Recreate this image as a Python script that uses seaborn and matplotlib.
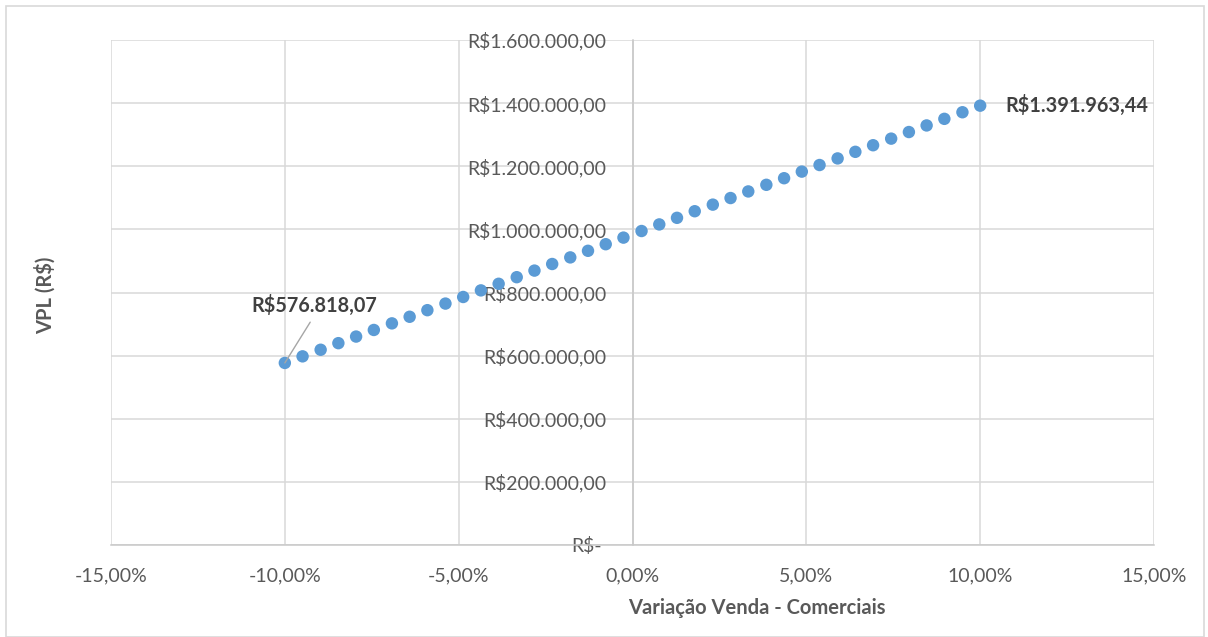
import matplotlib
matplotlib.use("Agg")
import matplotlib.pyplot as plt
import matplotlib.transforms as mtransforms
from matplotlib.ticker import FuncFormatter
import pandas as pd
import seaborn as sns

# Sales variation (%) and resulting NPV (R$)
variacao_pct = [-10.00, -9.49, -8.97, -8.46, -7.95, -7.44, -6.92, -6.41, -5.90, -5.38,
                -4.87, -4.36, -3.85, -3.33, -2.82, -2.31, -1.79, -1.28, -0.77, -0.26,
                0.26, 0.77, 1.28, 1.79, 2.31, 2.82, 3.33, 3.85, 4.36, 4.87,
                5.38, 5.90, 6.41, 6.92, 7.44, 7.95, 8.46, 8.97, 9.49, 10.00]
vpl = [576818.07, 597700, 618600, 639500, 660400, 681300, 702200, 723100, 744000, 764900,
       785800, 806700, 827600, 848500, 869400, 890300, 911200, 932100, 953000, 973900,
       994800, 1015700, 1036600, 1057500, 1078400, 1099300, 1120200, 1141200, 1162100, 1183000,
       1203900, 1224800, 1245700, 1266600, 1287500, 1308400, 1329300, 1350200, 1371100, 1391963.44]

x_ticks = [-15, -10, -5, 0, 5, 10, 15]
y_ticks = [0, 200000, 400000, 600000, 800000, 1000000, 1200000, 1400000, 1600000]

df = pd.DataFrame({"variacao": variacao_pct, "vpl": vpl})

sns.set_theme(style="white")
plt.rcParams["font.family"] = ["Lato", "DejaVu Sans"]

TXT = "#595959"
LBL = "#404040"
GRID = "#D9D9D9"
BLUE = "#5B9BD5"

W, H = 1208, 637
fig = plt.figure(figsize=(W / 100, H / 100), dpi=100)
ax = fig.add_axes([111 / W, 1 - 545 / H, (1154 - 111) / W, (545 - 40) / H])

# outer chart border
fig.patches.append(plt.Rectangle((6 / W, 0.0), (1204 - 6) / W, 1 - 6 / H,
                                 transform=fig.transFigure, fill=False,
                                 edgecolor="#D9D9D9", linewidth=1.2))

sns.scatterplot(data=df, x="variacao", y="vpl", ax=ax, color=BLUE, s=80,
                edgecolor="none", zorder=3)

ax.set_xlim(-15, 15)
ax.set_ylim(0, 1600000)
ax.set_xticks(x_ticks)
ax.set_yticks(y_ticks)
ax.grid(True, color=GRID, linewidth=1.1)
ax.set_axisbelow(True)

for side in ["top", "right"]:
    ax.spines[side].set_visible(False)
ax.spines["left"].set_position(("data", 0))
for side in ["left", "bottom"]:
    ax.spines[side].set_color("#C8C8C8")
    ax.spines[side].set_linewidth(1.1)


def fmt_brl(v, _pos):
    if v == 0:
        return "R$-"
    s = f"{v:,.2f}".replace(",", "X").replace(".", ",").replace("X", ".")
    return "R$" + s


def fmt_pct(v, _pos):
    return f"{v:.2f}%".replace(".", ",")


ax.yaxis.set_major_formatter(FuncFormatter(fmt_brl))
ax.xaxis.set_major_formatter(FuncFormatter(fmt_pct))
ax.tick_params(axis="both", length=0, labelsize=14, labelcolor=TXT)
ax.tick_params(axis="y", pad=19)
ax.tick_params(axis="x", pad=16)

# the zero label sits slightly further left
for lbl in ax.get_yticklabels():
    if lbl.get_text() == "R$-":
        lbl.set_transform(lbl.get_transform() +
                          mtransforms.ScaledTranslation(-0.04, 0, fig.dpi_scale_trans))

ax.set_xlabel("")
ax.set_ylabel("")
fig.text(757 / W, 1 - 608 / H, "Variação Venda - Comerciais", ha="center", va="center",
         fontsize=14.5, fontweight="bold", color=TXT)
fig.text(45 / W, 1 - 295 / H, "VPL (R$)", rotation=90, ha="center", va="center",
         fontsize=14.5, fontweight="bold", color=TXT)

# value labels on the end points
first_x, first_y = variacao_pct[0], vpl[0]
last_x, last_y = variacao_pct[-1], vpl[-1]
ax.annotate("", xy=(first_x, first_y), xytext=(-9.27, 706000),
            arrowprops=dict(arrowstyle="-", color="#A6A6A6", linewidth=1,
                            shrinkA=0, shrinkB=0))
ax.text(-9.16, 760000, fmt_brl(first_y, None), ha="center", va="center",
        fontsize=14.3, fontweight="bold", color=LBL)
ax.annotate(fmt_brl(last_y, None), xy=(last_x, last_y), xytext=(18.5, 0),
            textcoords="offset points", ha="left", va="center", fontsize=14.3,
            fontweight="bold", color=LBL)

fig.savefig("out.png", dpi=100)
